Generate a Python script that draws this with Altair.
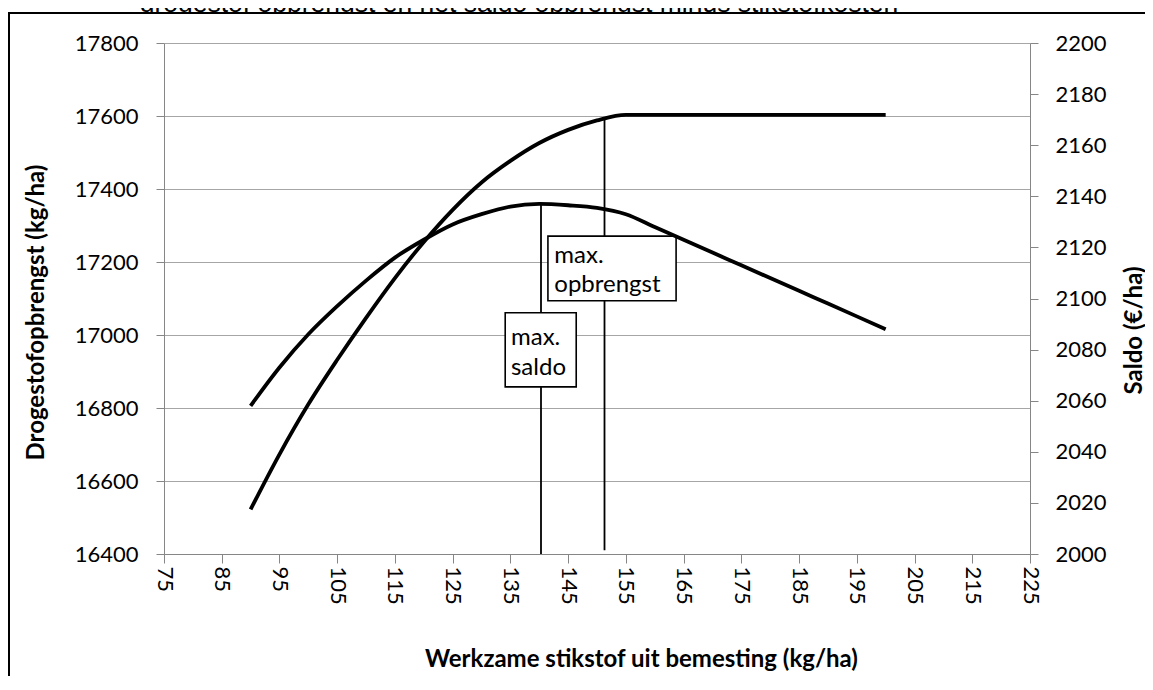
import altair as alt
import pandas as pd

# ---- data ----
stikstof = [90, 95, 100, 105, 110, 115, 120, 125, 130, 135, 140, 145, 150,
            155, 160, 165, 170, 175, 180, 185, 190, 195, 200]
drogestof = [16522, 16673, 16810, 16932, 17047, 17156, 17255, 17343, 17418,
             17477, 17526, 17562, 17588, 17603, 17603, 17603, 17603, 17603,
             17603, 17603, 17603, 17603, 17603]
saldo = [2058, 2073, 2086, 2097, 2107, 2116, 2123, 2129, 2133, 2136, 2137,
         2136.5, 2135.5, 2133, 2128, 2123, 2118, 2113, 2108, 2103, 2098, 2093, 2088]

x_ticks = list(range(75, 226, 10))
left_ticks = list(range(16400, 17801, 200))
right_ticks = list(range(2000, 2201, 20))

# markers (vertical lines) in data units
marker_names = ["max. saldo", "max. opbrengst"]
marker_x = [140.3, 151.3]
marker_lo = [16400, 16410]
marker_hi = [17362, 17590]

# annotation boxes in data units
box_x1 = [134.1, 141.5]
box_x2 = [146.4, 163.7]
box_y1 = [16858, 17094]
box_y2 = [17061, 17271]

label_text = ["max.", "saldo", "max.", "opbrengst"]
label_x = [135.1, 135.1, 142.6, 142.6]
label_y = [16972, 16890, 17196, 17118]

caption = "drogestof opbrengst en het saldo opbrengst minus stikstofkosten"

df = pd.DataFrame({"N": stikstof, "drogestof": drogestof, "saldo": saldo})
mdf = pd.DataFrame({"name": marker_names, "x": marker_x, "lo": marker_lo, "hi": marker_hi})
bdf = pd.DataFrame({"x1": box_x1, "x2": box_x2, "y1": box_y1, "y2": box_y2})
tdf = pd.DataFrame({"t": label_text, "x": label_x, "y": label_y})
one = pd.DataFrame({"k": [0]})

AX = "#868686"
GRID = "#a6a6a6"
FONT = "Lato"

xscale = alt.Scale(domain=[75, 225], nice=False, zero=False)
yl = alt.Scale(domain=[16400, 17800], nice=False, zero=False)
yr = alt.Scale(domain=[2000, 2200], nice=False, zero=False)

x_axis = alt.Axis(values=x_ticks, labelAngle=90, labelAlign="left", labelBaseline="middle",
                  labelPadding=3, tickSize=9, tickColor=AX, domainColor=AX, grid=False,
                  labelFont=FONT, labelFontSize=22, labelColor="black", labelFlush=False,
                  labelOverlap=False,
                  title="Werkzame stikstof uit bemesting (kg/ha)", titleFont=FONT,
                  titleFontSize=24, titleFontWeight="bold", titleColor="black",
                  titleX=477, titleY=105, titleAlign="center", titleBaseline="middle")

left_axis = alt.Axis(values=left_ticks, format="d", grid=True, gridColor=GRID, gridWidth=1,
                     tickSize=8, tickColor=AX, domainColor=AX, labelPadding=18,
                     labelFont=FONT, labelFontSize=22, labelColor="black",
                     title="Drogestofopbrengst (kg/ha)", titleFont=FONT, titleFontSize=24,
                     titleFontWeight="bold", titleColor="black", titleAngle=270,
                     titleX=-128, titleY=269, titleAlign="center", titleBaseline="middle")

right_axis = alt.Axis(orient="right", values=right_ticks, format="d", grid=False,
                      tickSize=8, tickColor=AX, domainColor=AX, labelPadding=17,
                      labelFont=FONT, labelFontSize=22, labelColor="black",
                      title="Saldo (€/ha)", titleFont=FONT, titleFontSize=24,
                      titleFontWeight="bold", titleColor="black", titleAngle=270,
                      titleX=104, titleY=287, titleAlign="center", titleBaseline="middle")

cap = alt.Chart(one).mark_text(font="Liberation Sans", fontSize=26.5, color="black",
                               align="center", baseline="alphabetic").encode(
    x=alt.value(355), y=alt.value(-31), text=alt.value(caption))
mask = alt.Chart(one).mark_rect(fill="white").encode(
    x=alt.value(-154), x2=alt.value(1000), y=alt.value(-29), y2=alt.value(-21))
frame = alt.Chart(one).mark_rect(fillOpacity=0, stroke="black", strokeWidth=2).encode(
    x=alt.value(-155), x2=alt.value(1200), y=alt.value(-30), y2=alt.value(900))

X_N = alt.X("N:Q", scale=xscale, axis=x_axis)

yield_line = alt.Chart(df).mark_line(color="black", strokeWidth=3.8,
                                     interpolate="monotone").encode(
    x=X_N,
    y=alt.Y("drogestof:Q", scale=yl, axis=left_axis))

rules = alt.Chart(mdf).mark_rule(color="black", strokeWidth=1.8).encode(
    x=alt.X("x:Q", scale=xscale, axis=x_axis),
    y=alt.Y("lo:Q", scale=yl, axis=left_axis), y2="hi:Q")

boxes = alt.Chart(bdf).mark_rect(fill="white", stroke="black", strokeWidth=1.6).encode(
    x=alt.X("x1:Q", scale=xscale, axis=x_axis), x2="x2:Q",
    y=alt.Y("y1:Q", scale=yl, axis=left_axis), y2="y2:Q")

texts = alt.Chart(tdf).mark_text(align="left", baseline="alphabetic", font=FONT,
                                 fontSize=24, color="black").encode(
    x=alt.X("x:Q", scale=xscale, axis=x_axis),
    y=alt.Y("y:Q", scale=yl, axis=left_axis), text="t:N")

left = alt.layer(cap, mask, frame, yield_line, rules, boxes, texts)

saldo_line = alt.Chart(df).mark_line(color="black", strokeWidth=3.8,
                                     interpolate="monotone").encode(
    x=X_N,
    y=alt.Y("saldo:Q", scale=yr, axis=right_axis))

chart = alt.layer(left, saldo_line).resolve_scale(y="independent").properties(
    width=866, height=511,
    padding={"left": 156, "top": 35, "right": 115, "bottom": 122},
    autosize=alt.AutoSizeParams(type="none"),
    background="white",
).configure_view(strokeWidth=0)

chart.save("out.html", embed_options={"renderer": "svg", "actions": False})
